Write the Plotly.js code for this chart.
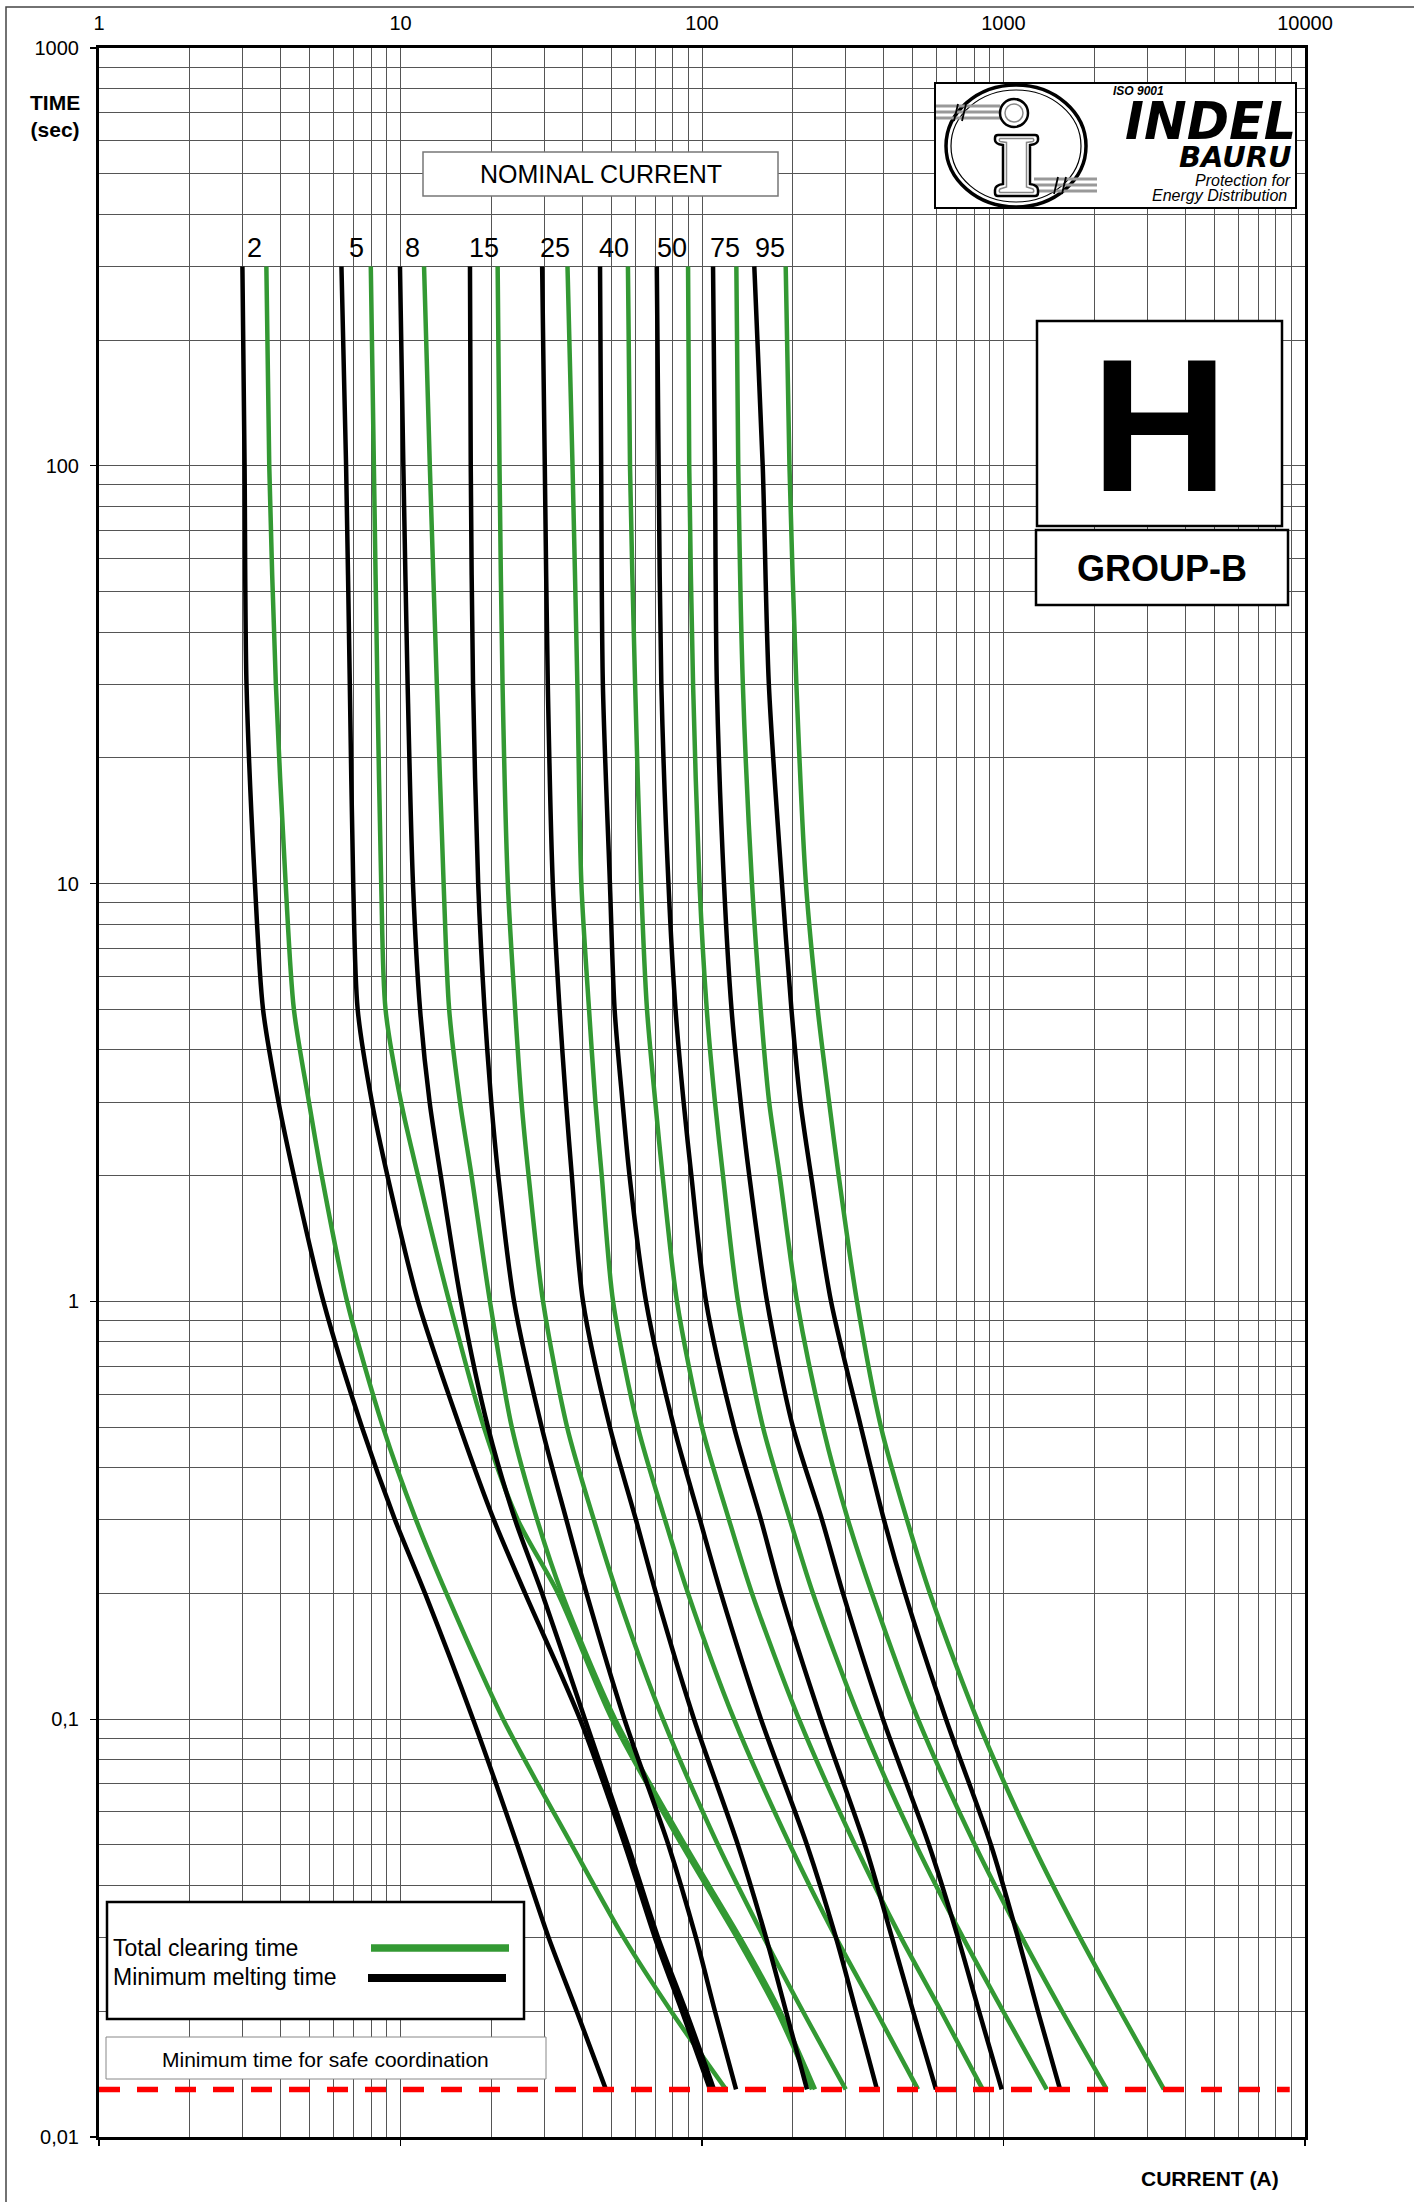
<!DOCTYPE html>
<html>
<head>
<meta charset="utf-8">
<script src="https://cdn.plot.ly/plotly-3.0.1.min.js"></script>
<style>html,body{margin:0;padding:0;background:#fff;}#chart{width:1414px;height:2202px;}</style>
</head>
<body>
<div id="chart"></div>
<script>
// ---------------- DATA ----------------
const times = [300, 100, 30, 10, 5, 3, 2, 1, 0.5, 0.3, 0.2, 0.1, 0.05, 0.03, 0.02, 0.013];
const ratings = ['2', '5', '8', '15', '25', '40', '50', '75', '95'];

// Minimum melting time curves (current in A at each time above)
const melt2  = [2.99, 3.04, 3.085, 3.29, 3.50, 3.94, 4.43, 5.55, 7.45, 9.59, 12.06, 17.4, 24.4, 31.0, 38.4, 48.0];
const melt5  = [6.37, 6.60, 6.79, 6.97, 7.21, 8.04, 9.05, 11.43, 15.75, 20.4, 25.9, 39.4, 55.5, 69.8, 85.8, 106.3];
const melt8  = [9.96, 10.22, 10.56, 11.0, 11.61, 12.49, 13.6, 15.88, 19.5, 24.0, 29.5, 40.9, 56.8, 71.5, 88.5, 109.6];
const melt15 = [17.0, 17.1, 17.4, 18.1, 19.0, 20.0, 21.1, 23.8, 29.4, 35.5, 41.4, 55.3, 77.4, 95.5, 110.4, 129.7];
const melt25 = [29.5, 30.1, 30.8, 32.0, 33.7, 35.4, 37.0, 40.3, 49.5, 60.4, 70.4, 94.1, 131.6, 163.1, 189.9, 223.0];
const melt40 = [45.9, 46.3, 46.9, 49.5, 51.3, 54.5, 57.5, 65.2, 80.7, 98.5, 115.6, 156.9, 223.0, 278.2, 324.2, 380.5];
const melt50 = [70.8, 71.8, 73.3, 77.4, 81.7, 86.9, 92.2, 103.1, 127.7, 156.9, 182.8, 248.2, 347.2, 426.8, 501.0, 597.2];
const melt75 = [108.8, 110.4, 112.0, 118.3, 125.3, 134.3, 143.5, 164.3, 200.3, 250.0, 293.6, 398.4, 566.1, 706.5, 829.3, 986.3];
const melt95 = [149.1, 159.0, 166.6, 184.2, 198.0, 212.0, 230.0, 267.9, 336.8, 401.4, 471.3, 644.6, 908.8, 1117, 1301, 1540];

// Total clearing time curves
const clear2  = [3.59, 3.67, 3.86, 4.16, 4.43, 4.97, 5.48, 6.65, 8.75, 11.26, 14.2, 21.9, 37.0, 55.0, 79.0, 120.1];
const clear5  = [7.97, 8.16, 8.38, 8.63, 8.92, 10.04, 11.43, 14.5, 18.9, 24.5, 33.3, 50.3, 85.8, 130.6, 177.4, 231.6];
const clear8  = [11.97, 12.51, 13.2, 13.9, 14.5, 15.75, 17.2, 19.8, 23.4, 28.4, 34.3, 51.5, 87.8, 133.7, 181.4, 237.0];
const clear15 = [21.0, 21.3, 21.8, 22.7, 24.0, 25.2, 26.6, 29.7, 35.7, 43.8, 52.3, 74.2, 113.0, 160.6, 216, 299.7];
const clear25 = [35.8, 37.2, 38.6, 39.8, 42.2, 44.3, 46.5, 50.7, 61.3, 75.4, 89.9, 127.7, 195.8, 278.2, 378, 520.5];
const clear40 = [56.8, 57.7, 60.0, 62.8, 65.7, 70.0, 74.0, 82.6, 100.0, 122.9, 146.5, 209.7, 321.7, 457.1, 621, 853.1];
const clear50 = [89.9, 90.7, 93.4, 98.1, 103.7, 110.4, 117.4, 131.6, 159.3, 195.8, 233.4, 334.2, 512.6, 733.9, 997, 1391];
const clear75 = [130.0, 131.9, 136.6, 146.5, 156.6, 167.0, 181.0, 206.6, 252.0, 304.9, 366.2, 520.5, 804, 1152, 1565, 2199];
const clear95 = [189.5, 195.0, 205.6, 221.2, 242.0, 264.0, 284.0, 326.6, 392.4, 478.5, 570.4, 816.8, 1253, 1794, 2440, 3406];

// Minimum time for safe coordination
const minTime = 0.013;
const minTimeCurrents = [1, 8900];

// Axis ticks
const xTickVals = [1, 10, 100, 1000, 10000];
const xTickText = ['1', '10', '100', '1000', '10000'];
const yTickVals = [0.01, 0.1, 1, 10, 100, 1000];
const yTickText = ['0,01', '0,1', '1', '10', '100', '1000'];

// ---------------- BUILD ----------------
const meltSeries = [melt2, melt5, melt8, melt15, melt25, melt40, melt50, melt75, melt95];
const clearSeries = [clear2, clear5, clear8, clear15, clear25, clear40, clear50, clear75, clear95];

const GREEN = '#339933';
const FONT = 'Liberation Sans, Arial, sans-serif';

// plot-area pixel geometry
const L = 99, R = 1305, T = 48, B = 2137;
const px = v => (v - L) / (R - L);
const py = v => (B - v) / (B - T);

const gridX = [];
for (let k = 0; k < 4; k++) for (let d = 2; d <= 9; d++) gridX.push(d * Math.pow(10, k));
const gridY = [];
for (let k = -2; k < 3; k++) for (let d = 2; d <= 9; d++) gridY.push(d * Math.pow(10, k));

const traces = [];
ratings.forEach((r, i) => {
  traces.push({
    x: clearSeries[i], y: times, type: 'scatter', mode: 'lines',
    line: {color: GREEN, width: 4.5, shape: 'spline', smoothing: 0.8},
    hoverinfo: 'skip', showlegend: false, name: 'Total clearing ' + r
  });
  traces.push({
    x: meltSeries[i], y: times, type: 'scatter', mode: 'lines',
    line: {color: '#000', width: 4.5, shape: 'spline', smoothing: 0.8},
    hoverinfo: 'skip', showlegend: false, name: 'Minimum melting ' + r
  });
});
traces.push({
  x: minTimeCurrents, y: minTimeCurrents.map(() => minTime), xaxis: 'x2', yaxis: 'y',
  type: 'scatter', mode: 'lines',
  line: {color: '#ff0000', width: 5.5, dash: '21px,17px'},
  hoverinfo: 'skip', showlegend: false
});

function rect(x0, y0, x1, y1, color, width, fill) {
  return {type: 'rect', xref: 'paper', yref: 'paper', x0: px(x0), x1: px(x1), y0: py(y1), y1: py(y0),
    line: {color: color, width: width}, fillcolor: fill || 'rgba(0,0,0,0)', layer: 'above'};
}
function seg(x0, y0, x1, y1, color, width) {
  return {type: 'line', xref: 'paper', yref: 'paper', x0: px(x0), x1: px(x1), y0: py(y0), y1: py(y1),
    line: {color: color, width: width}, layer: 'above'};
}
function ell(x0, y0, x1, y1, color, width, fill) {
  return {type: 'circle', xref: 'paper', yref: 'paper', x0: px(x0), x1: px(x1), y0: py(y1), y1: py(y0),
    line: {color: color, width: width}, fillcolor: fill || 'rgba(0,0,0,0)', layer: 'above'};
}
function path(tokens, color, width, fill) {
  let s = '', isX = true;
  tokens.forEach(t => {
    if (typeof t === 'string') { s += t + ' '; isX = true; }
    else { s += (isX ? px(t) : py(t)).toFixed(5) + (isX ? ',' : ' '); isX = !isX; }
  });
  return {type: 'path', xref: 'paper', yref: 'paper', path: s.trim(),
    line: {color: color, width: width}, fillcolor: fill || 'rgba(0,0,0,0)', layer: 'above'};
}

const stem = ['M', 998, 135, 'L', 1035, 135, 'Q', 1038, 135, 1038, 138, 'L', 1038, 140, 'Q', 1038, 144, 1030, 145,
  'L', 1030, 184, 'Q', 1038, 185, 1038, 190, 'L', 1038, 193, 'Q', 1038, 196, 1035, 196, 'L', 998, 196,
  'Q', 995, 196, 995, 193, 'L', 995, 190, 'Q', 995, 185, 1003, 184, 'L', 1003, 145, 'Q', 995, 144, 995, 140,
  'L', 995, 138, 'Q', 995, 135, 998, 135, 'Z'];
const stemIn = ['M', 1000, 138.5, 'L', 1033, 138.5, 'Q', 1034.5, 140, 1033, 141.5, 'L', 1026.5, 142.5,
  'L', 1026.5, 187, 'L', 1033, 189, 'Q', 1034.5, 191, 1033, 192.5, 'L', 1000, 192.5, 'Q', 998.5, 191, 1000, 189,
  'L', 1006.5, 187, 'L', 1006.5, 142.5, 'L', 1000, 141.5, 'Q', 998.5, 140, 1000, 138.5, 'Z'];

const shapes = [
  // white band behind the rating labels
  {type: 'rect', xref: 'paper', yref: 'paper', x0: px(205), x1: px(820), y0: py(266), y1: py(228),
    line: {width: 0}, fillcolor: '#fff', layer: 'between'},
  // page frame
  {type: 'rect', xref: 'paper', yref: 'paper', x0: px(6), x1: px(1425), y0: py(2215), y1: py(7),
    line: {color: '#444', width: 1.5}, fillcolor: 'rgba(0,0,0,0)', layer: 'above'},
  // boxes
  rect(423, 152, 778, 196, '#777', 1.5, '#fff'),
  rect(935, 83, 1296, 208, '#000', 2, '#fff'),
  rect(1037, 321, 1282, 526, '#000', 2.5, '#fff'),
  rect(1036, 530, 1288, 605, '#000', 2.5, '#fff'),
  rect(107, 1902, 524, 2019, '#000', 2.5, '#fff'),
  rect(106, 2037, 546, 2079, '#888', 1, '#fff'),
  // legend line samples
  seg(371, 1948, 509, 1948, GREEN, 7.5),
  seg(368, 1978, 506, 1978, '#000', 8),
  // logo
  ell(946, 85, 1086, 207, '#000', 3.5),
  ell(951, 90, 1081, 202, '#000', 1.2),
  seg(936, 106, 1000, 106, '#999', 3), seg(936, 112, 1000, 112, '#999', 3), seg(936, 118, 1000, 118, '#999', 3),
  seg(954, 121, 958, 104, '#000', 1.8), seg(962, 121, 966, 104, '#000', 1.8),
  seg(1034, 179, 1097, 179, '#999', 3), seg(1034, 185, 1097, 185, '#999', 3), seg(1034, 191, 1097, 191, '#999', 3),
  seg(1054, 194, 1058, 177, '#000', 1.8), seg(1062, 194, 1066, 177, '#000', 1.8),
  ell(1000, 99, 1028, 127, '#000', 2.5, '#fff'),
  ell(1005, 104, 1023, 122, '#888', 1.5),
  path(stem, '#000', 2.5, '#fff'),
  path(stemIn, '#888', 1.5)
];

const annotations = [];
ratings.forEach((r, i) => {
  annotations.push({
    text: r, xref: 'x', x: Math.log10(Math.sqrt(meltSeries[i][0] * clearSeries[i][0])),
    yref: 'paper', y: py(248), showarrow: false, xanchor: 'center', yanchor: 'middle',
    font: {family: FONT, size: 27, color: '#000'}
  });
});
function note(text, x, y, size, opts) {
  return Object.assign({text: text, xref: 'paper', yref: 'paper', x: px(x), y: py(y), showarrow: false,
    xanchor: 'center', yanchor: 'middle', font: {family: FONT, size: size, color: '#000'}}, opts || {});
}
annotations.push(
  note('NOMINAL CURRENT', 600.5, 174, 25),
  note('TIME<br>(sec)', 55, 116, 21, {font: {family: FONT, size: 21, color: '#000', weight: 'bold'}}),
  note('CURRENT (A)', 1210, 2178, 21, {font: {family: FONT, size: 21, color: '#000', weight: 'bold'}}),
  note('H', 1159.5, 424.5, 190, {font: {family: FONT, size: 190, color: '#000', weight: 'bold'}}),
  note('GROUP-B', 1162, 568, 36, {font: {family: FONT, size: 36, color: '#000', weight: 'bold'}}),
  note('Total clearing time', 111, 1948, 23, {xanchor: 'left'}),
  note('Minimum melting time', 111, 1977, 23, {xanchor: 'left'}),
  note('Minimum time for safe coordination', 325, 2059, 21),
  note('ISO 9001', 1138, 91, 12, {borderpad: 0, font: {family: FONT, size: 12, color: '#000', weight: 'bold', style: 'italic'}}),
  note('INDEL', 1297, 122, 51, {xanchor: 'right', borderpad: 0, font: {family: 'DejaVu Sans', size: 51, color: '#000', weight: 'bold', style: 'italic'}}),
  note('BAURU', 1293, 157, 29, {xanchor: 'right', borderpad: 0, font: {family: 'DejaVu Sans', size: 29, color: '#000', weight: 'bold', style: 'italic'}}),
  note('Protection for', 1292, 180.5, 16, {xanchor: 'right', borderpad: 0, font: {family: FONT, size: 16, color: '#000', style: 'italic'}}),
  note('Energy Distribution', 1288, 196, 16, {xanchor: 'right', borderpad: 0, font: {family: FONT, size: 16, color: '#000', style: 'italic'}})
);

const GRID = '#555';
const layout = {
  width: 1414, height: 2202,
  margin: {l: L, r: 1414 - R, t: T, b: 2202 - B, pad: 0},
  paper_bgcolor: '#fff', plot_bgcolor: '#fff',
  showlegend: false,
  font: {family: FONT, color: '#000'},
  xaxis: {
    type: 'log', range: [0, 4], side: 'bottom',
    tickmode: 'array', tickvals: xTickVals, showticklabels: false,
    ticks: 'outside', ticklen: 6, tickwidth: 1.2, tickcolor: '#000',
    showline: true, linecolor: '#000', linewidth: 3, mirror: true,
    showgrid: true, gridcolor: GRID, gridwidth: 1, zeroline: false,
    minor: {tickmode: 'array', tickvals: gridX, showgrid: true, gridcolor: GRID, gridwidth: 1, ticks: ''}
  },
  xaxis2: {
    type: 'log', range: [0, 4], side: 'top', overlaying: 'x',
    tickmode: 'array', tickvals: xTickVals, ticktext: xTickText,
    ticks: '', showline: false, showgrid: false, zeroline: false,
    tickfont: {family: FONT, size: 20, color: '#000'}, ticklabelstandoff: 13
  },
  yaxis: {
    type: 'log', range: [-2, 3],
    tickmode: 'array', tickvals: yTickVals, ticktext: yTickText,
    ticks: 'outside', ticklen: 6, tickwidth: 1.2, tickcolor: '#000',
    showline: true, linecolor: '#000', linewidth: 3, mirror: true,
    showgrid: true, gridcolor: GRID, gridwidth: 1, zeroline: false,
    tickfont: {family: FONT, size: 20, color: '#000'}, ticklabelstandoff: 7,
    minor: {tickmode: 'array', tickvals: gridY, showgrid: true, gridcolor: GRID, gridwidth: 1, ticks: ''}
  },
  shapes: shapes,
  annotations: annotations
};

Plotly.newPlot('chart', traces, layout, {staticPlot: true, displayModeBar: false});
</script>
</body>
</html>
